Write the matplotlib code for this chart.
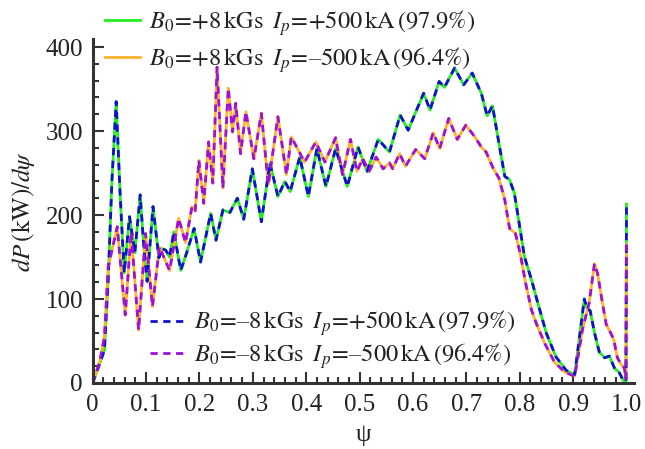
import matplotlib
matplotlib.use('Agg')
import matplotlib.pyplot as plt
from matplotlib.lines import Line2D
from matplotlib.ticker import MultipleLocator, FixedLocator

plt.rcParams['font.family'] = ['Liberation Serif', 'DejaVu Serif']
plt.rcParams['mathtext.fontset'] = 'stix'

# B0 = +8 kGs, Ip = +500 kA  (green solid, blue dashed on top)
psi_pos = [0.000, 0.013, 0.022, 0.029, 0.036, 0.044, 0.051, 0.059, 0.069, 0.079,
           0.089, 0.096, 0.102, 0.113, 0.124, 0.130, 0.137, 0.144, 0.152, 0.165,
           0.176, 0.190, 0.202, 0.221, 0.231, 0.244, 0.257, 0.271, 0.283, 0.299,
           0.316, 0.332, 0.347, 0.360, 0.370, 0.388, 0.404, 0.420, 0.437, 0.455,
           0.477, 0.497, 0.514, 0.535, 0.556, 0.576, 0.591, 0.620, 0.632, 0.649,
           0.659, 0.678, 0.695, 0.711, 0.728, 0.739, 0.749, 0.759, 0.772, 0.781,
           0.790, 0.800, 0.809, 0.822, 0.834, 0.850, 0.868, 0.887, 0.903, 0.921,
           0.926, 0.932, 0.940, 0.949, 0.959, 0.968, 0.978, 0.986, 0.994, 0.999,
           1.000]
p_pos = [0, 23, 39, 122, 240, 335, 230, 131, 198, 155,
         224, 160, 121, 210, 149, 160, 158, 150, 180, 134,
         155, 184, 144, 202, 170, 206, 203, 220, 195, 255,
         192, 262, 222, 240, 228, 269, 222, 279, 234, 279,
         234, 281, 252, 290, 275, 319, 301, 345, 325, 359,
         352, 375, 355, 369, 345, 318, 330, 293, 246, 242,
         226, 186, 150, 123, 95, 59, 31, 15, 10, 100,
         89, 86, 60, 37, 30, 32, 17, 13, 3, 2,
         213]

# B0 = +8 kGs, Ip = -500 kA  (orange solid, purple dashed on top)
psi_neg = [0.000, 0.013, 0.022, 0.029, 0.046, 0.061, 0.072, 0.086, 0.099, 0.112,
           0.125, 0.144, 0.161, 0.174, 0.186, 0.192, 0.199, 0.208, 0.217, 0.225,
           0.233, 0.244, 0.254, 0.262, 0.268, 0.277, 0.287, 0.302, 0.316, 0.329,
           0.347, 0.363, 0.372, 0.397, 0.418, 0.435, 0.455, 0.468, 0.483, 0.495,
           0.506, 0.518, 0.531, 0.544, 0.556, 0.562, 0.575, 0.586, 0.605, 0.622,
           0.638, 0.650, 0.667, 0.683, 0.699, 0.716, 0.728, 0.737, 0.750, 0.761,
           0.772, 0.781, 0.792, 0.801, 0.811, 0.822, 0.831, 0.847, 0.865, 0.884,
           0.903, 0.918, 0.930, 0.940, 0.946, 0.955, 0.962, 0.970, 0.976, 0.983,
           0.990, 0.996, 0.999, 1.000]
p_neg = [0, 25, 55, 138, 186, 81, 180, 63, 178, 91,
         162, 134, 196, 167, 210, 205, 265, 214, 287, 238,
         376, 232, 351, 299, 333, 273, 323, 267, 321, 236,
         317, 248, 293, 263, 287, 263, 292, 248, 290, 252,
         267, 252, 269, 255, 262, 255, 273, 258, 278, 267,
         298, 279, 315, 290, 307, 293, 281, 275, 256, 244,
         218, 184, 178, 154, 119, 87, 71, 47, 25, 13,
         8, 65, 95, 142, 130, 95, 70, 60, 52, 30,
         22, 18, 5, 165]

labels = [r'$B_0\!=\!{+}8\,\mathrm{kGs}\;\; I_p\!=\!{+}500\,\mathrm{kA}\,(97.9\%)$',
          r'$B_0\!=\!{+}8\,\mathrm{kGs}\;\; I_p\!=\!–500\,\mathrm{kA}\,(96.4\%)$',
          r'$B_0\!=\!–8\,\mathrm{kGs}\;\; I_p\!=\!{+}500\,\mathrm{kA}\,(97.9\%)$',
          r'$B_0\!=\!–8\,\mathrm{kGs}\;\; I_p\!=\!–500\,\mathrm{kA}\,(96.4\%)$']
x_ticks = [0, 0.1, 0.2, 0.3, 0.4, 0.5, 0.6, 0.7, 0.8, 0.9, 1.0]
x_ticklabels = ['0', '0.1', '0.2', '0.3', '0.4', '0.5', '0.6', '0.7', '0.8', '0.9', '1.0']
y_ticks = [0, 100, 200, 300, 400]

green = '#22ee22'
orange = '#ffb22e'
blue = '#1010d0'
purple = '#a010d8'
lw = 2.0
dash = (2.6, 2.0)

fig = plt.figure(figsize=(6.45, 4.49), dpi=100)
ax = fig.add_axes([0.1437, 0.147, 0.84, 0.767])

ax.plot(psi_pos, p_pos, color=green, lw=lw, solid_joinstyle='round')
ax.plot(psi_neg, p_neg, color=orange, lw=lw, solid_joinstyle='round')
ax.plot(psi_pos, p_pos, color=blue, lw=lw, dashes=dash, dash_joinstyle='round')
ax.plot(psi_neg, p_neg, color=purple, lw=lw, dashes=dash, dash_joinstyle='round')

ax.set_xlim(0, 1.015)
ax.set_ylim(0, 410)
ax.xaxis.set_major_locator(FixedLocator(x_ticks))
ax.set_xticklabels(x_ticklabels)
ax.xaxis.set_minor_locator(MultipleLocator(0.02))
ax.yaxis.set_major_locator(FixedLocator(y_ticks))
ax.yaxis.set_minor_locator(MultipleLocator(20))

for s in ['top', 'right']:
    ax.spines[s].set_visible(False)
for s in ['left', 'bottom']:
    ax.spines[s].set_linewidth(2.2)
    ax.spines[s].set_color('#333333')
ax.tick_params(which='both', direction='in', color='#333333', width=1.5,
               labelsize=18, labelcolor='#222222')
ax.tick_params(which='major', length=8)
ax.tick_params(axis='x', which='major', pad=8)
ax.tick_params(axis='y', which='major', pad=7)
ax.tick_params(which='minor', length=4.5)

ax.set_xlabel('ψ', fontsize=18, color='#222222', labelpad=6)
ax.set_ylabel(r'$dP\,(\mathrm{kW})/d\psi$', fontsize=18, color='#222222', labelpad=6)

h_top = [Line2D([], [], color=green, lw=lw), Line2D([], [], color=orange, lw=lw)]
leg1 = fig.legend(h_top, labels[:2], loc='upper left', bbox_to_anchor=(0.128, 1.03),
                  frameon=False, fontsize=17.6, handlelength=1.45, handletextpad=0.35,
                  labelspacing=0.28, labelcolor='#222222')

h_bot = [Line2D([], [], color=blue, lw=lw, dashes=dash),
         Line2D([], [], color=purple, lw=lw, dashes=dash)]
leg2 = ax.legend(h_bot, labels[2:], loc='upper left', bbox_to_anchor=(0.066, 0.28),
                 frameon=False, fontsize=17.6, handlelength=1.45, handletextpad=0.35,
                 labelspacing=0.1, labelcolor='#222222')

fig.savefig('out.png', dpi=100)
